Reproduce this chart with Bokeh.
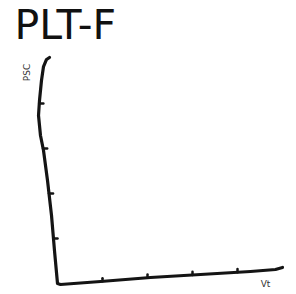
import numpy as np
from bokeh.plotting import figure
from bokeh.models import Range1d
from bokeh.core.properties import value
from bokeh.embed import file_html
from bokeh.resources import INLINE

# ---- data (sketch units: one tick = 1) ----
title_text = "PLT-F"
y_label = "PSC"
x_label = "Vt"
yaxis_x = [-0.178, -0.244, -0.311, -0.356, -0.400, -0.422, -0.378, -0.311, -0.222, -0.133, -0.067, 0.0]
yaxis_y = [5.022, 4.978, 4.822, 4.511, 4.067, 3.733, 3.289, 2.956, 2.289, 1.511, 0.733, 0.0]
xaxis_x = [0.0, 0.067, 0.956, 2.067, 3.178, 4.289, 4.844, 5.0]
xaxis_y = [0.0, -0.022, 0.044, 0.133, 0.200, 0.267, 0.311, 0.356]
y_ticks = [1, 2, 3, 4]
x_ticks = [1, 2, 3, 4]

W, H = 296, 294
p = figure(width=W, height=H, output_backend="svg", toolbar_location=None,
           x_axis_type=None, y_axis_type=None, title_location=None,
           min_border=0, x_range=Range1d(-1.2667, 5.3111), y_range=Range1d(-0.2444, 6.2889))
p.grid.visible = False
p.outline_line_color = None
p.background_fill_color = "white"
p.border_fill_color = "white"

ink = "#141414"
path_x = yaxis_x + xaxis_x
path_y = yaxis_y + xaxis_y
p.line(path_x, path_y, line_color=ink, line_width=3.2, line_join="round", line_cap="round")

# tick marks
ytx = np.interp(y_ticks, yaxis_y[::-1], yaxis_x[::-1])
p.segment(x0=ytx, y0=y_ticks, x1=ytx + 0.09, y1=y_ticks, line_color=ink, line_width=2.5, line_cap="round")
xty = np.interp(x_ticks, xaxis_x, xaxis_y)
p.segment(x0=x_ticks, y0=xty, x1=x_ticks, y1=xty + 0.07, line_color=ink, line_width=2.5, line_cap="round")

p.text(x=[-0.956], y=[5.744], text=[title_text], text_font=value("DejaVu Sans"),
       text_font_size="41px", text_color="#111111", text_baseline="middle", text_align="left")
p.text(x=[-0.667], y=[4.689], text=[y_label], angle=np.pi / 2, text_font=value("DejaVu Sans"),
       text_font_size="9px", text_color="#333333", text_align="center", text_baseline="middle")
p.text(x=[4.622], y=[-0.022], text=[x_label], text_font=value("DejaVu Sans"),
       text_font_size="9px", text_color="#333333", text_align="center", text_baseline="middle")

open("out.html", "w").write(file_html(p, INLINE))
